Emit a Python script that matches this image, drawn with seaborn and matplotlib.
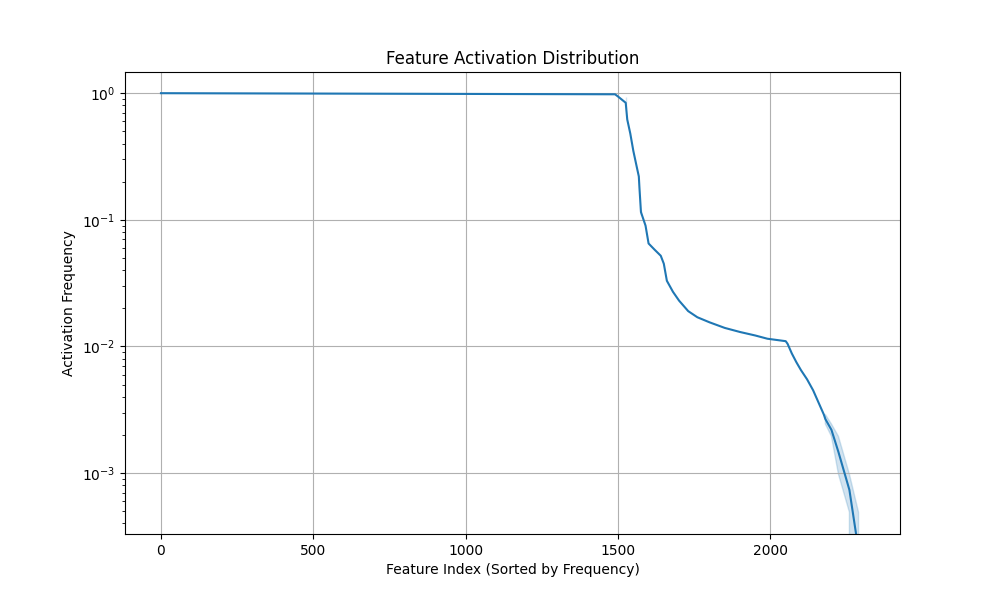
import pandas as pd
import matplotlib
matplotlib.use('Agg')
import matplotlib.pyplot as plt
import seaborn as sns

# Sorted activation frequency (breakpoints)
feature_index = [0, 1490, 1500, 1525, 1525, 1530, 1540, 1550, 1560, 1568, 1570, 1575, 1575,
                 1590, 1600, 1620, 1640, 1650, 1660, 1680, 1700, 1730, 1760, 1800, 1850,
                 1900, 1950, 1990, 2050, 2056, 2070, 2085, 2100, 2120, 2140, 2160, 2175,
                 2180, 2180, 2200, 2200, 2223, 2223, 2259, 2259, 2289, 2289, 2310]
activation_freq = [1.0, 0.98, 0.94, 0.93, 0.75, 0.62, 0.48, 0.35, 0.27, 0.22, 0.18, 0.12, 0.11,
                   0.09, 0.065, 0.058, 0.052, 0.045, 0.033, 0.027, 0.023, 0.019, 0.017, 0.0155, 0.014,
                   0.013, 0.0122, 0.0115, 0.011, 0.0105, 0.0088, 0.0075, 0.0065, 0.0055, 0.0045, 0.0035, 0.0029,
                   0.0029, 0.00244, 0.00244, 0.00195, 0.00195, 0.00098, 0.00098, 0.00049, 0.00049, 0.0, 0.0]

df = pd.DataFrame({'idx': feature_index, 'freq': activation_freq})

plt.figure(figsize=(10, 6))
ax = sns.lineplot(data=df, x='idx', y='freq', color='#1f77b4', linewidth=1.5, sort=False)
ax.set_yscale('log')
ax.set_xlim(-118, 2425)
ax.set_ylim(3.3e-4, 1.47)
plt.grid(True)
plt.title('Feature Activation Distribution')
plt.xlabel('Feature Index (Sorted by Frequency)')
plt.ylabel('Activation Frequency')
plt.savefig('out.png', dpi=100)
